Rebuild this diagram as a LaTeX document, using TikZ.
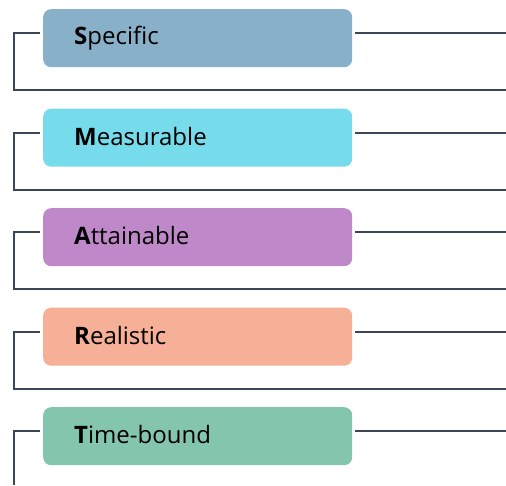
\documentclass[tikz,border=0pt]{standalone}
\usepackage{fontspec}
\setmainfont{Open Sans}
\begin{document}
\begin{tikzpicture}[x=1pt,y=-1pt,
  smartbox/.style={rounded corners=8pt, minimum width=309pt, minimum height=58pt,
    inner sep=0pt, anchor=north west, text width=277pt, align=left,
    font=\fontsize{24}{28}\selectfont, text=black},
  link/.style={draw=linec, line width=2pt}]
\definecolor{linec}{HTML}{3B4659}
\definecolor{cS}{HTML}{88B0C8}
\definecolor{cM}{HTML}{76DCEB}
\definecolor{cA}{HTML}{BF88C8}
\definecolor{cR}{HTML}{F6B097}
\definecolor{cT}{HTML}{84C5AE}
\useasboundingbox (0,0) rectangle (506,485);
\foreach \i/\c/\L/\rest in {0/cS/S/pecific,1/cM/M/easurable,2/cA/A/ttainable,3/cR/R/ealistic,4/cT/T/ime-bound}{
  \pgfmathsetmacro{\yy}{9+99.5*\i}
  \node[smartbox, fill=\c] (b\i) at (43,\yy) {\hspace*{15pt}\raisebox{3.5pt}{\textbf{\L}\rest}};
  \coordinate (l\i) at ([xshift=-3pt,yshift=-24pt]b\i.north west);
  \coordinate (r\i) at ([xshift=3pt,yshift=-24pt]b\i.north east);
  \coordinate (e\i) at (506,\yy+24);
  \coordinate (c\i) at (14,\yy+24);
  \draw[link] (r\i) -- (e\i);
}
\foreach \i in {0,1,2,3}{
  \coordinate (f\i) at (14,90+99.5*\i);
  \coordinate (g\i) at (506,90+99.5*\i);
  \draw[link] (l\i) -- (c\i) -- (f\i) -- (g\i);
}
\coordinate (f4) at (14,485);
\draw[link] (l4) -- (c4) -- (f4);
\end{tikzpicture}
\end{document}
